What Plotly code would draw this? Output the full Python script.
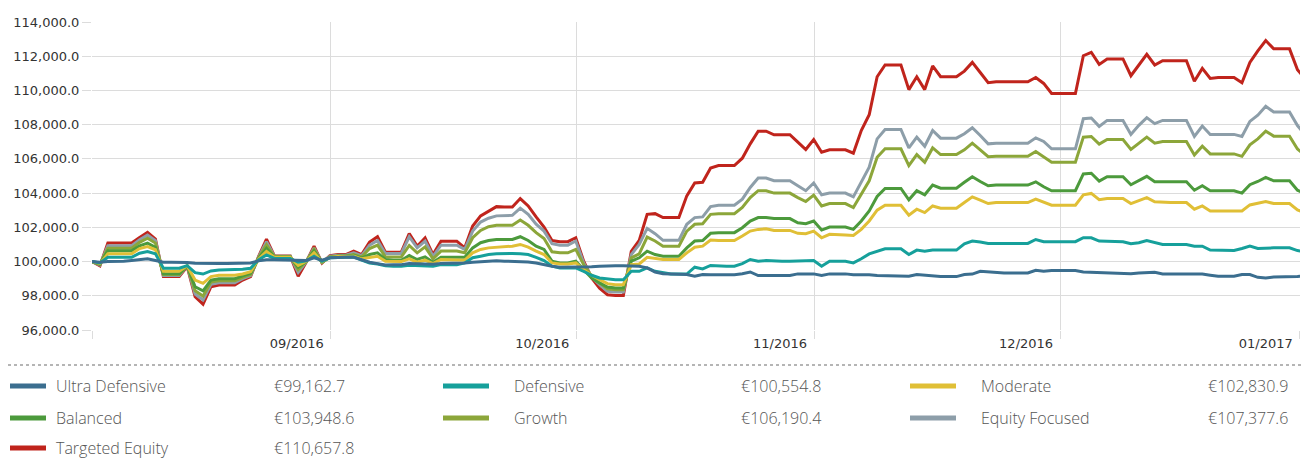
import pandas as pd
import plotly.graph_objects as go

# ---------------- data ----------------
dates = pd.date_range("2016-08-01", periods=154, freq="D")

series_names = ["Ultra Defensive", "Defensive", "Moderate", "Balanced",
                "Growth", "Equity Focused", "Targeted Equity"]
series_colors = ["#3b6e8f", "#16a09b", "#e0bf36", "#4c9a3c",
                 "#8ca63a", "#8d9ea9", "#c0241c"]
final_values = [99162.7, 100554.8, 102830.9, 103948.6, 106190.4, 107377.6, 110657.8]

ultra_defensive = [
    100000, 99960, 100000, 100000, 100020, 100060, 100120, 100160, 100060, 99960,
    99960, 99960, 99940, 99900, 99880, 99880, 99880, 99880, 99880, 99900,
    99920, 100040, 100100, 100100, 100100, 100100, 100080, 100060, 100220, 100080,
    100220, 100250, 100250, 100250, 100120, 99960, 99880, 99800, 99820, 99820,
    99880, 99860, 99860, 99840, 99880, 99880, 99880, 99920, 99960, 100000,
    100020, 100040, 100020, 100020, 100020, 99980, 99920, 99820, 99730, 99670,
    99670, 99690, 99670, 99690, 99730, 99760, 99760, 99760, 99760, 99730,
    99630, 99390, 99290, 99270, 99270, 99240, 99140, 99240, 99230, 99230,
    99230, 99230, 99290, 99390, 99180, 99200, 99180, 99180, 99180, 99280,
    99290, 99280, 99180, 99280, 99280, 99280, 99230, 99230, 99230, 99180,
    99180, 99180, 99180, 99140, 99240, 99200, 99120, 99120, 99120, 99120,
    99240, 99270, 99430, 99390, 99330, 99330, 99330, 99330, 99330, 99490,
    99430, 99470, 99470, 99470, 99470, 99390, 99370, 99330, 99310, 99290,
    99290, 99290, 99330, 99370, 99370, 99270, 99270, 99270, 99270, 99290,
    99270, 99200, 99140, 99140, 99140, 99240, 99240, 99080, 99040, 99100,
    99100, 99100, 99130, 99162.7]

defensive = [
    100000, 99920, 100250, 100250, 100250, 100250, 100490, 100590, 100450, 99610,
    99610, 99610, 99760, 99350, 99270, 99450, 99510, 99510, 99510, 99550,
    99610, 100100, 100390, 100180, 100180, 100180, 99960, 100040, 100310, 100020,
    100220, 100250, 100250, 100270, 100080, 99920, 99860, 99760, 99730, 99730,
    99780, 99760, 99760, 99730, 99820, 99820, 99820, 99920, 100220, 100310,
    100410, 100450, 100470, 100470, 100450, 100410, 100250, 100060, 99730, 99630,
    99630, 99630, 99430, 99200, 99040, 98980, 98940, 98940, 99430, 99430,
    99630, 99430, 99330, 99270, 99270, 99270, 99670, 99570, 99770, 99730,
    99730, 99730, 99880, 100120, 100020, 100060, 100020, 100020, 100020, 100020,
    100060, 100060, 99730, 100020, 100020, 100020, 99920, 100160, 100450, 100610,
    100750, 100750, 100750, 100410, 100670, 100610, 100670, 100670, 100670, 100670,
    101040, 101200, 101140, 101060, 101060, 101060, 101060, 101060, 101060, 101290,
    101160, 101160, 101160, 101160, 101160, 101390, 101390, 101200, 101200, 101180,
    101160, 101040, 101100, 101230, 101100, 101000, 101000, 101000, 101000, 100900,
    100900, 100670, 100650, 100650, 100650, 100760, 100900, 100760, 100800, 100800,
    100800, 100800, 100640, 100554.8]

moderate = [
    100000, 99880, 100450, 100450, 100450, 100450, 100760, 100880, 100690, 99430,
    99430, 99430, 99760, 98920, 98730, 99120, 99200, 99200, 99200, 99270,
    99410, 100140, 100590, 100250, 100250, 100250, 99780, 100020, 100510, 99980,
    100240, 100290, 100290, 100330, 100160, 100250, 100310, 100020, 100000, 100000,
    100160, 99960, 100080, 99880, 100120, 100120, 100120, 100080, 100510, 100710,
    100800, 100840, 100900, 100900, 101000, 100840, 100610, 100410, 99920, 99860,
    99860, 99920, 99530, 99200, 98940, 98710, 98650, 98650, 99820, 99860,
    100250, 100180, 100120, 100120, 100120, 100510, 100840, 100900, 101260, 101230,
    101230, 101230, 101490, 101780, 101880, 101920, 101820, 101820, 101820, 101650,
    101630, 101780, 101390, 101590, 101550, 101550, 101530, 101880, 102370, 103000,
    103290, 103290, 103290, 102710, 103060, 102860, 103250, 103120, 103120, 103120,
    103450, 103780, 103590, 103390, 103450, 103450, 103450, 103450, 103450, 103650,
    103450, 103290, 103290, 103290, 103290, 103900, 103980, 103610, 103690, 103690,
    103690, 103390, 103550, 103740, 103490, 103450, 103450, 103450, 103450, 103060,
    103250, 102960, 102960, 102960, 102960, 102960, 103310, 103390, 103510, 103390,
    103390, 103390, 103020, 102830.9]

balanced = [
    100000, 99850, 100630, 100630, 100630, 100630, 100920, 101080, 100840, 99290,
    99290, 99290, 99760, 98530, 98290, 98920, 99000, 99000, 99000, 99160,
    99310, 100180, 100780, 100270, 100270, 100270, 99670, 100000, 100610, 99960,
    100250, 100310, 100310, 100370, 100200, 100410, 100510, 100120, 100080, 100080,
    100350, 100120, 100270, 99960, 100250, 100250, 100250, 100250, 100800, 101100,
    101230, 101290, 101290, 101290, 101450, 101230, 100900, 100710, 100020, 99920,
    99920, 100020, 99530, 99040, 98750, 98510, 98450, 98450, 100020, 100220,
    100610, 100410, 100310, 100310, 100310, 100800, 101200, 101230, 101650, 101690,
    101690, 101690, 101980, 102370, 102570, 102570, 102510, 102510, 102510, 102270,
    102210, 102370, 101840, 102020, 102020, 102020, 101880, 102370, 102960, 103800,
    104270, 104270, 104270, 103610, 104140, 103900, 104470, 104290, 104290, 104290,
    104630, 104960, 104680, 104430, 104470, 104470, 104470, 104470, 104470, 104660,
    104370, 104140, 104140, 104140, 104140, 105120, 105160, 104700, 104960, 104960,
    104960, 104490, 104720, 104980, 104660, 104660, 104660, 104660, 104660, 104170,
    104430, 104140, 104140, 104140, 104140, 104000, 104490, 104680, 104920, 104720,
    104720, 104720, 104170, 103948.6]

growth = [
    100000, 99830, 100780, 100780, 100780, 100780, 101120, 101370, 101080, 99240,
    99240, 99240, 99750, 98290, 97980, 98800, 98880, 98880, 98880, 99080,
    99240, 100220, 100980, 100290, 100290, 100290, 99530, 100000, 100710, 99960,
    100270, 100330, 100330, 100410, 100270, 100760, 100960, 100270, 100270, 100270,
    100940, 100510, 100860, 100160, 100610, 100610, 100610, 100510, 101390, 101820,
    102040, 102120, 102120, 102120, 102430, 102120, 101690, 101350, 100570, 100510,
    100510, 100710, 99820, 99140, 98750, 98410, 98350, 98350, 100220, 100450,
    101430, 101200, 100900, 100900, 100900, 101780, 102180, 102210, 102760, 102800,
    102800, 102800, 103160, 103740, 104140, 104140, 104000, 104000, 104000, 103740,
    103510, 103880, 103250, 103390, 103390, 103390, 103160, 103940, 104720, 106100,
    106590, 106590, 106590, 105610, 106250, 105800, 106640, 106250, 106250, 106250,
    106530, 106920, 106530, 106130, 106150, 106150, 106150, 106150, 106150, 106430,
    106130, 105800, 105800, 105800, 105800, 107270, 107310, 106860, 107130, 107130,
    107130, 106550, 106920, 107270, 106920, 107020, 107020, 107020, 107020, 106230,
    106740, 106290, 106290, 106290, 106290, 106150, 106820, 107170, 107620, 107330,
    107330, 107330, 106580, 106190.4]

equity_focused = [
    100000, 99800, 100920, 100920, 100920, 100920, 101270, 101550, 101220, 99180,
    99180, 99180, 99750, 98100, 97750, 98670, 98760, 98760, 98760, 99000,
    99180, 100250, 101160, 100310, 100310, 100310, 99370, 99980, 100800, 99940,
    100310, 100370, 100370, 100510, 100350, 100960, 101230, 100470, 100470, 100470,
    101450, 100800, 101190, 100310, 100960, 100960, 100960, 100710, 101780, 102310,
    102530, 102670, 102700, 102700, 103120, 102760, 102180, 101780, 101040, 100960,
    100960, 101200, 99920, 99100, 98650, 98260, 98220, 98220, 100410, 101000,
    101940, 101630, 101240, 101240, 101240, 102180, 102570, 102610, 103210, 103290,
    103290, 103290, 103650, 104330, 104880, 104880, 104720, 104720, 104720, 104430,
    104140, 104590, 103900, 104000, 104000, 104000, 103780, 104630, 105510, 107170,
    107720, 107720, 107720, 106640, 107270, 106740, 107660, 107210, 107210, 107210,
    107470, 107820, 107370, 106880, 106920, 106920, 106920, 106920, 106920, 107230,
    107020, 106590, 106590, 106590, 106590, 108350, 108390, 107900, 108250, 108250,
    108250, 107430, 107960, 108410, 108060, 108250, 108250, 108250, 108250, 107310,
    107920, 107430, 107430, 107430, 107430, 107310, 108190, 108550, 109070, 108740,
    108740, 108740, 107950, 107377.6]

targeted_equity = [
    100000, 99750, 101080, 101080, 101080, 101080, 101410, 101700, 101310, 99120,
    99120, 99120, 99710, 97940, 97510, 98530, 98630, 98630, 98630, 98920,
    99120, 100290, 101310, 100330, 100330, 100330, 99140, 99960, 100900, 99920,
    100350, 100410, 100410, 100610, 100410, 101140, 101450, 100550, 100550, 100550,
    101630, 100900, 101390, 100410, 101190, 101190, 101190, 100800, 102080, 102670,
    102960, 103210, 103190, 103190, 103680, 103250, 102610, 102020, 101230, 101160,
    101160, 101390, 100020, 99040, 98450, 98060, 98020, 98020, 100600, 101230,
    102760, 102800, 102570, 102570, 102570, 103840, 104590, 104630, 105470, 105610,
    105610, 105610, 106040, 106880, 107620, 107620, 107410, 107410, 107410, 106980,
    106550, 107130, 106390, 106530, 106530, 106530, 106330, 107660, 108580, 110800,
    111490, 111490, 111490, 110050, 110800, 110050, 111430, 110800, 110800, 110800,
    111130, 111640, 111050, 110450, 110510, 110510, 110510, 110510, 110510, 110760,
    110410, 109820, 109820, 109820, 109820, 112030, 112230, 111520, 111840, 111840,
    111840, 110860, 111490, 112110, 111490, 111740, 111740, 111740, 111740, 110540,
    111290, 110700, 110760, 110760, 110760, 110450, 111640, 112310, 112920, 112430,
    112430, 112430, 111210, 110657.8]

all_series = [ultra_defensive, defensive, moderate, balanced,
              growth, equity_focused, targeted_equity]

# x-axis ticks (month gridlines) and labels
tick_positions = ["2016-08-01 00:00", "2016-08-31 02:24", "2016-10-01 01:40",
                  "2016-10-31 01:00", "2016-12-01 01:40", "2016-12-31 07:00"]
tick_labels = ["", "09/2016", "10/2016", "11/2016", "12/2016", "01/2017"]
x_range = ["2016-08-01 00:00", "2016-12-31 07:40"]
y_range = [96000, 114000]

# ---------------- figure ----------------
W, H = 1301, 459
M_L, M_R, M_T, M_B = 92, 1, 22, 129
PW, PH = W - M_L - M_R, H - M_T - M_B


def px(x):
    return (x - M_L) / PW


def py(y):
    return (H - M_B - y) / PH


fig = go.Figure()
# draw heaviest first so Ultra Defensive sits on top
for name, col, vals in reversed(list(zip(series_names, series_colors, all_series))):
    fig.add_trace(go.Scatter(x=dates, y=vals, name=name, mode="lines",
                             line=dict(color=col, width=3),
                             showlegend=False, hoverinfo="skip"))

grid = "#dcdcdc"
axis_font = dict(family="DejaVu Sans, Verdana, sans-serif", size=13, color="#333333")

fig.update_layout(
    width=W, height=H,
    margin=dict(l=M_L, r=M_R, t=M_T, b=M_B),
    paper_bgcolor="white", plot_bgcolor="white",
    xaxis=dict(type="date", range=x_range, tickmode="array",
               tickvals=tick_positions, ticktext=tick_labels,
               showgrid=True, gridcolor=grid, gridwidth=1,
               ticks="outside", ticklen=8, tickcolor=grid, tickwidth=1,
               ticklabelshift=-34, ticklabelstandoff=-7,
               zeroline=False, showline=False, tickfont=axis_font),
    yaxis=dict(range=y_range, tickmode="linear", tick0=96000, dtick=2000,
               tickformat=",.1f", showgrid=True, gridcolor=grid, gridwidth=1,
               ticks="outside", ticklen=9, tickcolor=grid, tickwidth=1,
               zeroline=False, showline=False, tickfont=axis_font),
)

# ---------------- custom legend ----------------
shapes = [dict(type="line", xref="paper", yref="paper",
               x0=px(8), x1=px(1301), y0=py(365), y1=py(365),
               line=dict(color="#b5b5b5", width=2, dash="dot"))]
annotations = []
col_swatch_x = [(10, 46), (443, 489), (910, 956)]
col_name_x = [55, 513, 980]
col_value_x = [273, 740, 1207]
row_y = [386, 418, 448]
legend_font = dict(family="Open Sans, Lato, sans-serif", size=16, color="#555555",
                   weight=300)

for i, (name, col, val) in enumerate(zip(series_names, series_colors, final_values)):
    r, c = divmod(i, 3)
    y = row_y[r]
    sx0, sx1 = col_swatch_x[c]
    shapes.append(dict(type="line", xref="paper", yref="paper",
                       x0=px(sx0), x1=px(sx1),
                       y0=py(y), y1=py(y), line=dict(color=col, width=5)))
    annotations.append(dict(xref="paper", yref="paper", x=px(col_name_x[c]), y=py(y),
                            xanchor="left", yanchor="middle", showarrow=False,
                            borderpad=0, text=name, font=legend_font))
    annotations.append(dict(xref="paper", yref="paper", x=px(col_value_x[c]), y=py(y),
                            xanchor="left", yanchor="middle", showarrow=False,
                            borderpad=0, text="€{:,.1f}".format(val), font=legend_font))

fig.update_layout(shapes=shapes, annotations=annotations)
fig.write_html("out.html",
               config={"displayModeBar": False},
               post_script="document.body.style.margin='0px';"
                           "document.body.style.padding='0px';")
